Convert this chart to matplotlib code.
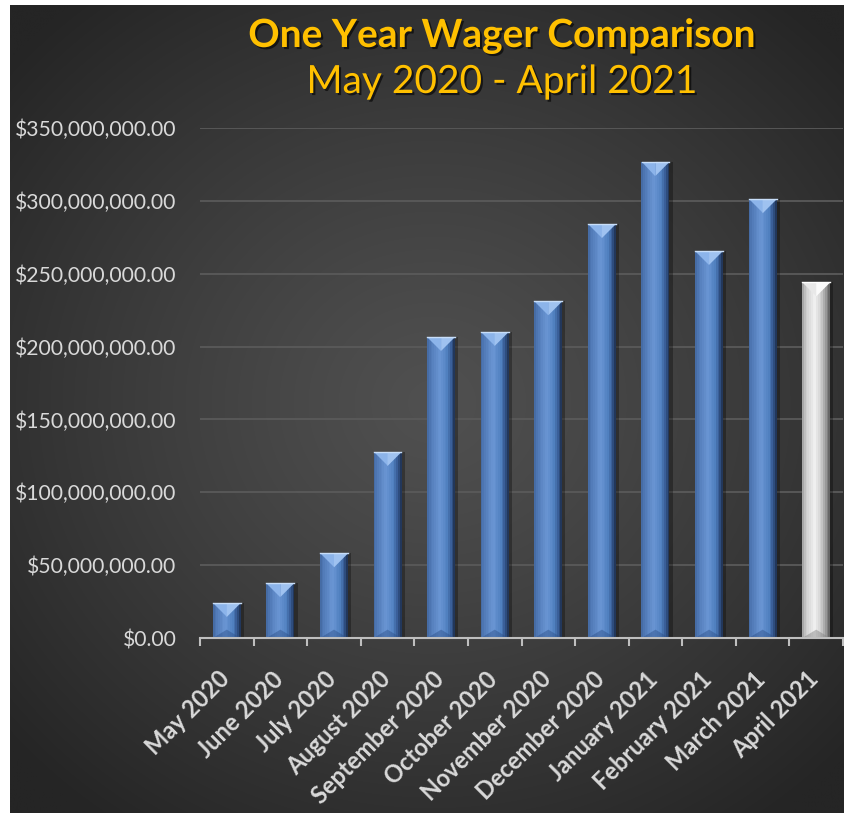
import numpy as np
import matplotlib
matplotlib.use("Agg")
import matplotlib.pyplot as plt
from matplotlib import patheffects as pe
from matplotlib import transforms
from matplotlib.colors import LinearSegmentedColormap
from matplotlib.ticker import FuncFormatter, FixedLocator

months = ["May 2020", "June 2020", "July 2020", "August 2020", "September 2020",
          "October 2020", "November 2020", "December 2020", "January 2021",
          "February 2021", "March 2021", "April 2021"]
wagers = [24.0e6, 37.7e6, 58.0e6, 127.6e6, 206.6e6, 210.0e6,
          231.0e6, 284.0e6, 326.7e6, 265.6e6, 301.0e6, 244.0e6]
current_month = "April 2021"   # partial month, drawn in silver

title = "One Year Wager Comparison"
subtitle = "May 2020 - April 2021"

W, H = 844, 813
FONT = "Lato"
plt.rcParams["font.family"] = [FONT, "DejaVu Sans"]

fig = plt.figure(figsize=(W / 100, H / 100), dpi=100, facecolor="white")

# dark radial background, leaving a thin white strip left and top
bg = fig.add_axes([10 / W, -0.01, 1, 1 - 5 / H + 0.01])
yy, xx = np.mgrid[0:820, 0:840]
r = np.clip(np.hypot((xx - 420) / 560, (yy - 400) / 520), 0, 1)
shade = (0x50 - (0x50 - 0x25) * r ** 1.2) / 255
bg.imshow(np.dstack([shade] * 3), aspect="auto", interpolation="bilinear")
bg.set_axis_off()

# plot area
ax_l, ax_b, ax_w, ax_h = 200, 638, 643, 510
ax = fig.add_axes([ax_l / W, 1 - ax_b / H, ax_w / W, ax_h / H])
ax.patch.set_alpha(0)

ymax = 350e6
n = len(months)
x = np.arange(n)
bar_w = 0.52
ax.set_xlim(-0.5, n - 0.5)
ax.set_ylim(0, ymax)

blue = LinearSegmentedColormap.from_list("blue", [
    (0.0, "#43679f"), (0.12, "#5079b6"), (0.45, "#6a96d4"),
    (0.72, "#5080bf"), (0.88, "#34578f"), (1.0, "#1d2d4c")])
silver = LinearSegmentedColormap.from_list("silver", [
    (0.0, "#9c9c9c"), (0.12, "#c9c9c9"), (0.45, "#f3f3f3"),
    (0.72, "#c4c4c4"), (0.88, "#8c8c8c"), (1.0, "#5c5c5c")])
is_cur = [m == current_month for m in months]

# soft shadow to the right
ax.bar(x + 0.06, wagers, width=bar_w, color="black", alpha=0.3, linewidth=0, zorder=2)

# bar body with horizontal gradient made of thin strips
strips = 16
for j in range(strips):
    t = (j + 0.5) / strips
    cols = [silver(t) if c else blue(t) for c in is_cur]
    ax.bar(x - bar_w / 2 + (j + 0.5) * bar_w / strips, wagers,
           width=bar_w / strips * 1.05, color=cols, linewidth=0, zorder=3)

# bevel: triangle on top and bottom
px_x = ax_w / n
px_y = ax_h / ymax
depth = (bar_w / 2) * px_x / px_y
for xi, v, c in zip(x, wagers, is_cur):
    l, rr = xi - bar_w / 2, xi + bar_w / 2
    top_l, top_r = ("#e8e8e8", "#fafafa") if c else ("#8cb4ea", "#9fc2f0")
    ax.fill([l, xi, xi], [v, v, v - depth], color=top_l, lw=0, zorder=4)
    ax.fill([xi, rr, xi], [v, v, v - depth], color=top_r, lw=0, zorder=4)
    bot = "#808080" if c else "#2c4f88"
    ax.fill([l, rr, xi], [0, 0, depth * 0.6], color=bot, alpha=0.45, lw=0, zorder=4)
    ax.plot([l, rr], [v, v], color="#c8def9" if not c else "#ffffff", lw=1, zorder=5)

# grid and axes
ax.yaxis.grid(True, color="#5a5a5a", linewidth=1.3)
ax.set_axisbelow(True)
for s in ["top", "right", "left"]:
    ax.spines[s].set_visible(False)
ax.spines["bottom"].set_color("#bfbfbf")
ax.spines["bottom"].set_linewidth(1.5)
ax.spines["bottom"].set_zorder(6)

ax.yaxis.set_major_locator(FixedLocator(np.arange(0, ymax + 1, 50e6)))
ax.yaxis.set_major_formatter(FuncFormatter(lambda v, p: "${:,.2f}".format(v)))
ax.tick_params(axis="y", length=0, pad=17, labelsize=15.2, labelcolor="#d9d9d9")

ax.set_xticks(x)
ax.set_xticks(np.arange(-0.5, n, 1), minor=True)
ax.tick_params(axis="x", which="major", length=0, pad=21)
ax.tick_params(axis="x", which="minor", length=6, width=1.5, color="#bfbfbf", direction="out")
ax.set_xticklabels(months, rotation=45, ha="right", fontsize=17,
                   fontweight="bold", color="#d9d9d9")
offset = transforms.ScaledTranslation(7 / 100, 0, fig.dpi_scale_trans)
for lab in ax.get_xticklabels():
    lab.set_transform(lab.get_transform() + offset)

shadow = [pe.withSimplePatchShadow(offset=(1.5, -1.5), shadow_rgbFace="black", alpha=0.6)]
fig.text(502 / W, 1 - 47 / H, title, ha="center", va="baseline", fontsize=28,
         fontweight="bold", color="#FFC000", path_effects=shadow)
fig.text(502 / W, 1 - 93 / H, subtitle, ha="center", va="baseline", fontsize=28,
         color="#FFC000", path_effects=shadow)

fig.savefig("out.png", dpi=100, facecolor="white")
